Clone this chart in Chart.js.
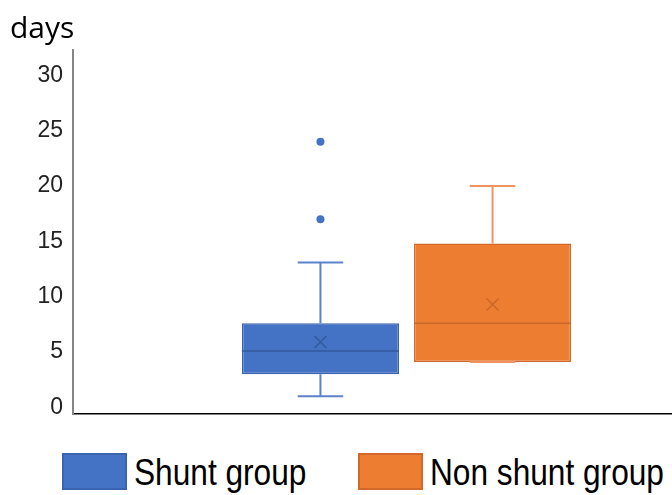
<!DOCTYPE html>
<html>
<head>
<meta charset="utf-8">
<script src="https://cdn.jsdelivr.net/npm/chart.js@4.4.1/dist/chart.umd.min.js"></script>
<style>
  body { margin: 0; overflow: hidden; background: #fff; }
  #wrap { position: relative; width: 740px; height: 440px; }
  #legend { position: absolute; top: 453px; left: 0; width: 740px; height: 42px;
    font-family: "Liberation Sans", Arial, sans-serif; font-size: 37px; color: #000; }
  .item { position: absolute; top: 0; white-space: nowrap; }
  .sw { position: absolute; left: 0; top: 0; width: 61px; height: 33px; border: 2px solid; }
  .txt { position: absolute; left: 72px; top: 1px; line-height: 37px; transform: scaleX(0.855); transform-origin: left center; }
</style>
</head>
<body>
<div id="wrap"><canvas id="myChart"></canvas></div>
<div id="legend"></div>
<script>
// box plot values (days)
var categories = ['Days'];
var seriesNames = ['Shunt group', 'Non shunt group'];
var mins = [1, 4.1];
var q1s = [3, 4.1];
var medians = [5.1, 7.6];
var q3s = [7.6, 14.8];
var maxs = [13.1, 20];
var means = [5.9, 9.3];
var outliers = [[17, 24], []];
var yTicks = [0, 5, 10, 15, 20, 25, 30];

var fills = ['#4472C4', '#ED7D31'];
var borders = ['#3A64B0', '#D2692A'];
var whiskers = ['#5B82CB', '#EF9460'];
var darks = ['#335A9E', '#C9662A'];
var legendLeft = [62, 358];

// whiskers, medians, means and outliers on top of the floating bars
var boxExtras = {
  id: 'boxExtras',
  afterDatasetsDraw: function(chart) {
    var ctx = chart.ctx;
    var y = chart.scales.y;
    chart.data.datasets.forEach(function(ds, i) {
      var bar = chart.getDatasetMeta(i).data[0];
      var cx = bar.x, half = bar.width / 2, cap = bar.width * 0.145;
      ctx.save();
      ctx.strokeStyle = whiskers[i];
      ctx.lineWidth = 2;
      ctx.beginPath();
      ctx.moveTo(cx, y.getPixelForValue(q3s[i]));
      ctx.lineTo(cx, y.getPixelForValue(maxs[i]));
      ctx.moveTo(cx - cap, y.getPixelForValue(maxs[i]));
      ctx.lineTo(cx + cap, y.getPixelForValue(maxs[i]));
      ctx.moveTo(cx, y.getPixelForValue(q1s[i]));
      ctx.lineTo(cx, y.getPixelForValue(mins[i]));
      ctx.moveTo(cx - cap, y.getPixelForValue(mins[i]));
      ctx.lineTo(cx + cap, y.getPixelForValue(mins[i]));
      ctx.stroke();

      // median
      ctx.strokeStyle = darks[i];
      ctx.lineWidth = 1.5;
      ctx.beginPath();
      ctx.moveTo(cx - half, y.getPixelForValue(medians[i]));
      ctx.lineTo(cx + half, y.getPixelForValue(medians[i]));
      ctx.stroke();

      // mean marker
      var my = y.getPixelForValue(means[i]), m = 6;
      ctx.beginPath();
      ctx.moveTo(cx - m, my - m); ctx.lineTo(cx + m, my + m);
      ctx.moveTo(cx + m, my - m); ctx.lineTo(cx - m, my + m);
      ctx.stroke();

      // outliers
      ctx.fillStyle = fills[i];
      outliers[i].forEach(function(v) {
        ctx.beginPath();
        ctx.arc(cx, y.getPixelForValue(v), 4, 0, Math.PI * 2);
        ctx.fill();
      });
      ctx.restore();
    });
  }
};

var ctx = document.getElementById('myChart').getContext('2d');
var myChart = new Chart(ctx, {
  type: 'bar',
  data: {
    labels: categories,
    datasets: seriesNames.map(function(name, i) {
      return {
        label: name,
        data: [[q1s[i], q3s[i]]],
        backgroundColor: fills[i],
        borderColor: borders[i],
        borderWidth: 1.5,
        borderSkipped: false,
        categoryPercentage: 0.516,
        barPercentage: 0.913
      };
    })
  },
  options: {
    responsive: true,
    maintainAspectRatio: false,
    animation: false,
    layout: { padding: { left: 10, right: 0, top: 0, bottom: 26 } },
    plugins: {
      legend: { display: false },
      tooltip: { enabled: false },
      title: {
        display: true,
        text: 'days',
        align: 'start',
        color: '#000',
        font: { family: '"Open Sans", sans-serif', size: 30, weight: 'normal' },
        padding: { top: 11, bottom: 3 }
      }
    },
    scales: {
      x: {
        ticks: { display: false },
        grid: { display: false, drawTicks: false },
        border: { display: true, color: '#000', width: 1.5 }
      },
      y: {
        min: -0.6,
        max: 32.3,
        afterBuildTicks: function(scale) {
          scale.ticks = yTicks.map(function(v) { return { value: v }; });
        },
        afterFit: function(scale) { scale.width = 63; },
        ticks: {
          color: '#222',
          padding: 10,
          font: { family: '"Liberation Sans", Arial, sans-serif', size: 23 }
        },
        grid: { display: false, drawTicks: false },
        border: { display: true, color: '#868686', width: 2 }
      }
    }
  },
  plugins: [boxExtras]
});

// legend built from the chart's datasets
var legend = document.getElementById('legend');
myChart.data.datasets.forEach(function(ds, i) {
  var item = document.createElement('div');
  item.className = 'item';
  item.style.left = legendLeft[i] + 'px';
  var sw = document.createElement('div');
  sw.className = 'sw';
  sw.style.background = ds.backgroundColor;
  sw.style.borderColor = ds.borderColor;
  var txt = document.createElement('span');
  txt.className = 'txt';
  txt.textContent = ds.label;
  item.appendChild(sw);
  item.appendChild(txt);
  legend.appendChild(item);
});
</script>
</body>
</html>
